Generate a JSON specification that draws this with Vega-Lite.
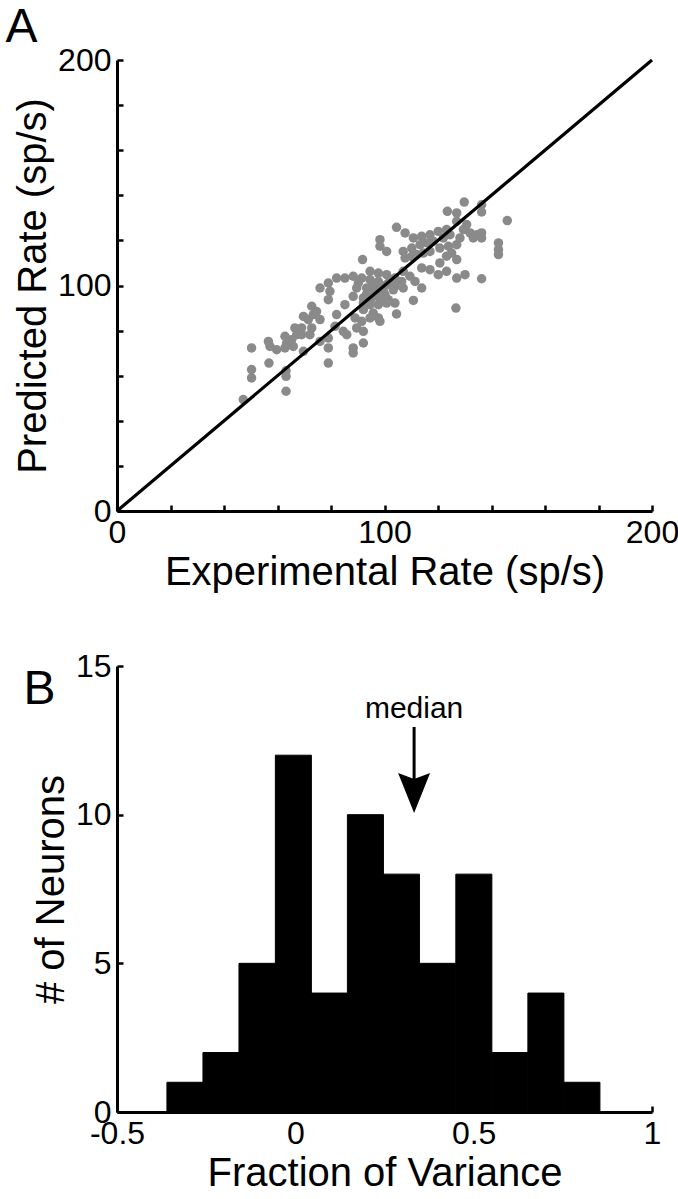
{
  "$schema": "https://vega.github.io/schema/vega-lite/v6.json",
  "background": "white",
  "padding": {"left": 5, "top": 4, "right": 2, "bottom": 0},
  "spacing": 58,
  "config": {
    "font": "Liberation Sans",
    "view": {"stroke": null},
    "axis": {
      "grid": false,
      "domainColor": "black",
      "domainWidth": 3,
      "tickColor": "black",
      "tickWidth": 2.5,
      "tickSize": -6,
      "labelColor": "black",
      "labelFontSize": 32,
      "labelFlush": false,
      "labelOverlap": false,
      "labelPadding": 12,
      "titleFontSize": 40,
      "titleFontWeight": "normal",
      "titleColor": "black"
    },
    "title": {"fontSize": 48, "fontWeight": "normal", "anchor": "start", "frame": "bounds", "color": "black"}
  },
  "vconcat": [
    {
      "width": 535,
      "height": 451,
      "title": {"text": "A", "offset": -8, "dx": -8},
      "layer": [
        {
          "data": {"values": [
            {"experimental": 129.8, "predicted": 137.0}, {"experimental": 136.3, "predicted": 135.8}, {"experimental": 136.3, "predicted": 132.6},
            {"experimental": 123.5, "predicted": 132.9}, {"experimental": 127.0, "predicted": 132.2}, {"experimental": 127.0, "predicted": 128.5},
            {"experimental": 145.9, "predicted": 128.8}, {"experimental": 104.5, "predicted": 125.8}, {"experimental": 107.7, "predicted": 123.3},
            {"experimental": 110.8, "predicted": 121.1}, {"experimental": 113.9, "predicted": 121.8}, {"experimental": 117.0, "predicted": 122.5},
            {"experimental": 120.1, "predicted": 124.0}, {"experimental": 123.2, "predicted": 124.8}, {"experimental": 124.5, "predicted": 122.5},
            {"experimental": 129.5, "predicted": 124.8}, {"experimental": 132.0, "predicted": 123.3}, {"experimental": 134.5, "predicted": 122.5},
            {"experimental": 136.3, "predicted": 123.3}, {"experimental": 136.3, "predicted": 121.1}, {"experimental": 133.2, "predicted": 121.1},
            {"experimental": 142.6, "predicted": 118.9}, {"experimental": 142.6, "predicted": 115.9}, {"experimental": 142.6, "predicted": 113.7},
            {"experimental": 98.3, "predicted": 120.3}, {"experimental": 98.3, "predicted": 117.4}, {"experimental": 100.8, "predicted": 115.1},
            {"experimental": 107.0, "predicted": 115.1}, {"experimental": 110.2, "predicted": 116.6}, {"experimental": 113.3, "predicted": 118.1},
            {"experimental": 114.5, "predicted": 114.4}, {"experimental": 112.0, "predicted": 113.7}, {"experimental": 107.7, "predicted": 112.2},
            {"experimental": 120.7, "predicted": 116.6}, {"experimental": 123.9, "predicted": 117.4}, {"experimental": 127.0, "predicted": 118.1},
            {"experimental": 125.1, "predicted": 114.4}, {"experimental": 127.0, "predicted": 111.5}, {"experimental": 123.2, "predicted": 113.0},
            {"experimental": 120.7, "predicted": 110.0}, {"experimental": 118.3, "predicted": 119.6}, {"experimental": 91.8, "predicted": 111.5},
            {"experimental": 113.9, "predicted": 107.8}, {"experimental": 117.0, "predicted": 107.0}, {"experimental": 120.1, "predicted": 104.8},
            {"experimental": 123.2, "predicted": 106.3}, {"experimental": 127.0, "predicted": 103.3}, {"experimental": 130.1, "predicted": 104.8},
            {"experimental": 136.3, "predicted": 103.0}, {"experimental": 109.5, "predicted": 104.1}, {"experimental": 111.4, "predicted": 101.8},
            {"experimental": 113.9, "predicted": 98.9}, {"experimental": 126.7, "predicted": 90.0}, {"experimental": 110.8, "predicted": 93.4},
            {"experimental": 94.6, "predicted": 106.3}, {"experimental": 97.7, "predicted": 105.5}, {"experimental": 100.8, "predicted": 104.8},
            {"experimental": 103.9, "predicted": 103.3}, {"experimental": 106.4, "predicted": 101.8}, {"experimental": 107.0, "predicted": 98.9},
            {"experimental": 88.3, "predicted": 104.1}, {"experimental": 91.5, "predicted": 103.3}, {"experimental": 94.6, "predicted": 102.6},
            {"experimental": 97.7, "predicted": 101.8}, {"experimental": 100.8, "predicted": 100.4}, {"experimental": 103.9, "predicted": 99.6},
            {"experimental": 89.6, "predicted": 98.9}, {"experimental": 93.3, "predicted": 98.9}, {"experimental": 96.5, "predicted": 98.1},
            {"experimental": 99.6, "predicted": 97.4}, {"experimental": 103.3, "predicted": 98.1}, {"experimental": 88.3, "predicted": 95.2},
            {"experimental": 92.1, "predicted": 94.5}, {"experimental": 95.2, "predicted": 94.5}, {"experimental": 98.3, "predicted": 94.5},
            {"experimental": 101.4, "predicted": 93.7}, {"experimental": 92.1, "predicted": 92.2}, {"experimental": 94.6, "predicted": 91.5},
            {"experimental": 97.7, "predicted": 91.5}, {"experimental": 100.8, "predicted": 92.2}, {"experimental": 103.9, "predicted": 92.2},
            {"experimental": 85.2, "predicted": 91.5}, {"experimental": 92.1, "predicted": 89.3}, {"experimental": 95.8, "predicted": 87.8},
            {"experimental": 104.5, "predicted": 87.4}, {"experimental": 89.0, "predicted": 85.6}, {"experimental": 91.5, "predicted": 84.1},
            {"experimental": 94.6, "predicted": 85.6}, {"experimental": 97.7, "predicted": 85.6}, {"experimental": 98.3, "predicted": 84.1},
            {"experimental": 89.6, "predicted": 81.2}, {"experimental": 92.1, "predicted": 79.7}, {"experimental": 92.1, "predicted": 74.5},
            {"experimental": 88.3, "predicted": 72.3}, {"experimental": 88.3, "predicted": 70.1}, {"experimental": 75.9, "predicted": 98.9},
            {"experimental": 79.0, "predicted": 101.1}, {"experimental": 82.1, "predicted": 103.3}, {"experimental": 79.6, "predicted": 97.4},
            {"experimental": 79.0, "predicted": 93.7}, {"experimental": 72.8, "predicted": 90.8}, {"experimental": 74.6, "predicted": 88.5},
            {"experimental": 69.7, "predicted": 86.3}, {"experimental": 71.5, "predicted": 84.9}, {"experimental": 75.9, "predicted": 84.9},
            {"experimental": 82.1, "predicted": 87.1}, {"experimental": 66.5, "predicted": 81.2}, {"experimental": 69.0, "predicted": 81.2},
            {"experimental": 72.8, "predicted": 81.2}, {"experimental": 72.1, "predicted": 78.2}, {"experimental": 69.0, "predicted": 78.2},
            {"experimental": 81.5, "predicted": 81.9}, {"experimental": 84.6, "predicted": 79.7}, {"experimental": 85.9, "predicted": 78.2},
            {"experimental": 62.8, "predicted": 77.5}, {"experimental": 65.3, "predicted": 76.0}, {"experimental": 63.4, "predicted": 74.5},
            {"experimental": 65.9, "predicted": 73.0}, {"experimental": 62.8, "predicted": 72.3}, {"experimental": 59.7, "predicted": 71.5},
            {"experimental": 56.6, "predicted": 75.2}, {"experimental": 57.2, "predicted": 73.0}, {"experimental": 69.7, "predicted": 70.8},
            {"experimental": 75.9, "predicted": 75.2}, {"experimental": 79.0, "predicted": 76.7}, {"experimental": 79.0, "predicted": 72.3},
            {"experimental": 50.3, "predicted": 72.3}, {"experimental": 56.8, "predicted": 65.6}, {"experimental": 79.0, "predicted": 65.6},
            {"experimental": 50.3, "predicted": 62.7}, {"experimental": 50.3, "predicted": 59.0}, {"experimental": 63.2, "predicted": 62.2},
            {"experimental": 63.2, "predicted": 59.7}, {"experimental": 63.2, "predicted": 53.1}, {"experimental": 47.2, "predicted": 49.4},
            {"experimental": 95.8, "predicted": 100.4}, {"experimental": 98.9, "predicted": 99.6}, {"experimental": 93.3, "predicted": 96.2},
            {"experimental": 97.1, "predicted": 96.2}, {"experimental": 100.2, "predicted": 95.9}, {"experimental": 107.0, "predicted": 106.3},
            {"experimental": 117.0, "predicted": 115.1}, {"experimental": 122.0, "predicted": 121.1}, {"experimental": 128.2, "predicted": 121.1},
            {"experimental": 85.2, "predicted": 103.3}, {"experimental": 94.6, "predicted": 96.7}, {"experimental": 110.2, "predicted": 112.9},
            {"experimental": 115.8, "predicted": 118.9}, {"experimental": 130.7, "predicted": 127.0}, {"experimental": 73.4, "predicted": 87.1},
            {"experimental": 67.2, "predicted": 78.2}, {"experimental": 102.1, "predicted": 102.6}, {"experimental": 90.2, "predicted": 101.1}
          ]},
          "mark": {"type": "circle", "size": 90, "color": "#8a8a8a", "opacity": 1},
          "encoding": {
            "x": {
              "field": "experimental", "type": "quantitative",
              "scale": {"domain": [0, 200], "nice": false},
              "axis": {"title": "Experimental Rate (sp/s)", "values": [0, 20, 40, 60, 80, 100, 120, 140, 160, 180, 200], "labelExpr": "datum.value % 100 == 0 ? datum.label : ''"}
            },
            "y": {
              "field": "predicted", "type": "quantitative",
              "scale": {"domain": [0, 200], "nice": false},
              "axis": {"title": "Predicted Rate (sp/s)", "values": [0, 20, 40, 60, 80, 100, 120, 140, 160, 180, 200], "labelExpr": "datum.value % 100 == 0 ? datum.label : ''"}
            }
          }
        },
        {
          "data": {"values": [{"experimental": 0, "predicted": 0}, {"experimental": 200, "predicted": 200}]},
          "mark": {"type": "line", "color": "black", "strokeWidth": 3.2},
          "encoding": {
            "x": {"field": "experimental", "type": "quantitative"},
            "y": {"field": "predicted", "type": "quantitative"}
          }
        }
      ]
    },
    {
      "width": 535,
      "height": 446,
      "title": {"text": "B", "offset": -64, "dx": -8},
      "layer": [
        {
          "data": {"values": [
            {"bin_start": -0.36, "bin_end": -0.259, "count": 1},
            {"bin_start": -0.259, "bin_end": -0.158, "count": 2},
            {"bin_start": -0.158, "bin_end": -0.056, "count": 5},
            {"bin_start": -0.056, "bin_end": 0.045, "count": 12},
            {"bin_start": 0.045, "bin_end": 0.146, "count": 4},
            {"bin_start": 0.146, "bin_end": 0.247, "count": 10},
            {"bin_start": 0.247, "bin_end": 0.348, "count": 8},
            {"bin_start": 0.348, "bin_end": 0.45, "count": 5},
            {"bin_start": 0.45, "bin_end": 0.551, "count": 8},
            {"bin_start": 0.551, "bin_end": 0.652, "count": 2},
            {"bin_start": 0.652, "bin_end": 0.753, "count": 4},
            {"bin_start": 0.753, "bin_end": 0.854, "count": 1}
          ]},
          "mark": {"type": "bar", "color": "black", "stroke": "black", "strokeWidth": 1},
          "encoding": {
            "x": {
              "field": "bin_start", "type": "quantitative",
              "scale": {"domain": [-0.5, 1], "nice": false},
              "axis": {"title": "Fraction of Variance", "values": [-0.5, 0, 0.5, 1], "labelExpr": "datum.value == -0.5 ? '-0.5' : datum.value == 0.5 ? '0.5' : datum.value == 0 ? '0' : '1'"}
            },
            "x2": {"field": "bin_end"},
            "y": {
              "field": "count", "type": "quantitative",
              "scale": {"domain": [0, 15], "nice": false},
              "axis": {"title": "# of Neurons", "values": [0, 5, 10, 15]}
            },
            "y2": {"datum": 0}
          }
        },
        {
          "data": {"values": [{"median": 0.333, "top": 12.95, "bottom": 11.1, "head": 10.73, "label_y": 13.25, "label": "median"}]},
          "layer": [
            {
              "mark": {"type": "rule", "color": "black", "strokeWidth": 3},
              "encoding": {
                "x": {"field": "median", "type": "quantitative"},
                "y": {"field": "top", "type": "quantitative"},
                "y2": {"field": "bottom"}
              }
            },
            {
              "mark": {"type": "point", "filled": true, "color": "black", "opacity": 1, "size": 1600, "shape": "M-0.8,-1L0,-0.7L0.8,-1L0,1Z"},
              "encoding": {
                "x": {"field": "median", "type": "quantitative"},
                "y": {"field": "head", "type": "quantitative"}
              }
            },
            {
              "mark": {"type": "text", "fontSize": 30, "color": "black", "baseline": "alphabetic", "align": "center"},
              "encoding": {
                "x": {"field": "median", "type": "quantitative"},
                "y": {"field": "label_y", "type": "quantitative"},
                "text": {"field": "label"}
              }
            }
          ]
        }
      ]
    }
  ]
}
